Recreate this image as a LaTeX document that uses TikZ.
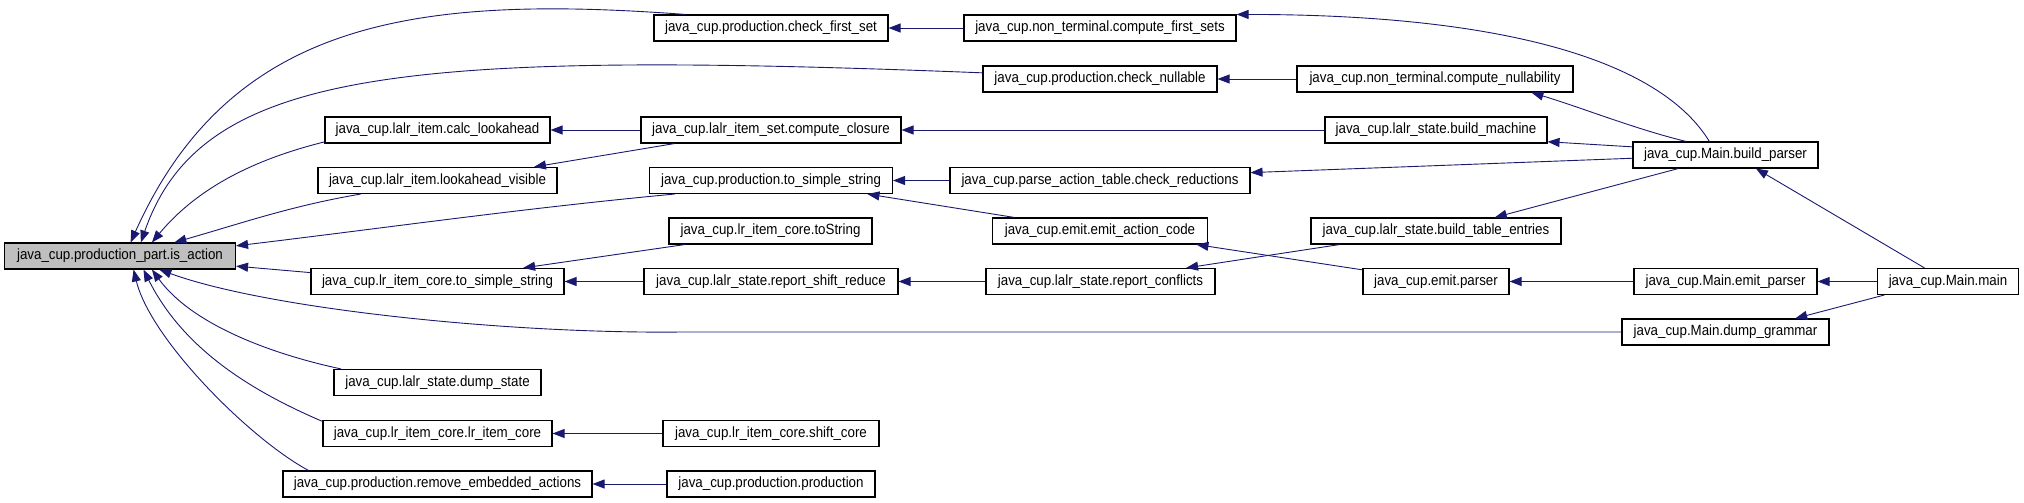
\documentclass[tikz,border=0pt]{standalone}
\usepackage{fontspec}
\usepackage{tikz}
\usetikzlibrary{arrows.meta}
\newfontfamily\dxfont[FakeStretch=0.9]{Liberation Sans}
\definecolor{edge_blue}{RGB}{25,25,112}
\definecolor{root_gray}{RGB}{191,191,191}
\tikzset{
  fn_box/.style={rectangle, draw=black, line width=1.1pt, minimum height=26pt, inner sep=2pt, font=\dxfont\fontsize{14.8}{16}\selectfont},
  fn_root/.style={fn_box, fill=root_gray},
  call/.style={draw=edge_blue, line width=0.9pt, -{Triangle[length=12pt,width=9pt]}}
}

\begin{document}
\begin{tikzpicture}[x=1pt, y=-1pt]

  \useasboundingbox (0,0) rectangle (2024,503);

  % Root function
  \node[fn_root, minimum width=231pt] (ipa) at (120,256) {java\_cup.production\_part.is\_action};

  % Second column
  \node[fn_box, minimum width=225pt] (clh) at (437.5,130) {java\_cup.lalr\_item.calc\_lookahead};
  \node[fn_box, minimum width=239pt] (lav) at (437.5,180.5) {java\_cup.lalr\_item.lookahead\_visible};
  \node[fn_box, minimum width=253pt] (lss) at (437.5,281.5) {java\_cup.lr\_item\_core.to\_simple\_string};
  \node[fn_box, minimum width=207pt] (dst) at (437.5,382.5) {java\_cup.lalr\_state.dump\_state};
  \node[fn_box, minimum width=229pt] (lic) at (437.5,433.5) {java\_cup.lr\_item\_core.lr\_item\_core};
  \node[fn_box, minimum width=309pt] (rea) at (437.5,484) {java\_cup.production.remove\_embedded\_actions};

  % Third column
  \node[fn_box, minimum width=234pt] (cfs) at (771,28) {java\_cup.production.check\_first\_set};
  \node[fn_box, minimum width=260pt] (ccl) at (771,130) {java\_cup.lalr\_item\_set.compute\_closure};
  \node[fn_box, minimum width=243pt] (pts) at (771,180.5) {java\_cup.production.to\_simple\_string};
  \node[fn_box, minimum width=203pt] (lts) at (770.5,231) {java\_cup.lr\_item\_core.toString};
  \node[fn_box, minimum width=254pt] (rsr) at (771,281.5) {java\_cup.lalr\_state.report\_shift\_reduce};
  \node[fn_box, minimum width=216pt] (shc) at (771,433.5) {java\_cup.lr\_item\_core.shift\_core};
  \node[fn_box, minimum width=208pt] (ppr) at (771,484) {java\_cup.production.production};

  % Fourth column
  \node[fn_box, minimum width=272pt] (nfs) at (1100,28) {java\_cup.non\_terminal.compute\_first\_sets};
  \node[fn_box, minimum width=234pt] (cnl) at (1100,79) {java\_cup.production.check\_nullable};
  \node[fn_box, minimum width=300pt] (crd) at (1100,180.5) {java\_cup.parse\_action\_table.check\_reductions};
  \node[fn_box, minimum width=215pt] (eac) at (1100,231) {java\_cup.emit.emit\_action\_code};
  \node[fn_box, minimum width=229pt] (rcf) at (1100.5,281.5) {java\_cup.lalr\_state.report\_conflicts};

  % Fifth column
  \node[fn_box, minimum width=276pt] (nnl) at (1435,79) {java\_cup.non\_terminal.compute\_nullability};
  \node[fn_box, minimum width=222pt] (bmc) at (1436,130) {java\_cup.lalr\_state.build\_machine};
  \node[fn_box, minimum width=250pt] (bte) at (1436,231) {java\_cup.lalr\_state.build\_table\_entries};
  \node[fn_box, minimum width=146pt] (epr) at (1436,281.5) {java\_cup.emit.parser};

  % Main entry points
  \node[fn_box, minimum width=185pt] (bps) at (1725.5,155) {java\_cup.Main.build\_parser};
  \node[fn_box, minimum width=183pt] (mep) at (1725.5,281.5) {java\_cup.Main.emit\_parser};
  \node[fn_box, minimum width=207pt] (mdg) at (1725.5,332) {java\_cup.Main.dump\_grammar};
  \node[fn_box, minimum width=141pt] (mmn) at (1948,281.5) {java\_cup.Main.main};

  % Calls into the root
  \draw[call] (cfs.171) .. controls +(-269,-20) and +(100,-223) .. (ipa.52);
  \draw[call] (cnl.177) .. controls +(-583,-23) and +(60,-173) .. (ipa.33);
  \draw[call] (clh.186) .. controls +(-60,15) and +(50,-60) .. (ipa.23);
  \draw[call] (lav.190) .. controls +(-70,12) and +(70,-20) .. (ipa.14);
  \draw[call] (pts.188) .. controls +(-150,14) and +(150,-18) .. (ipa.5);
  \draw[call] (lss.176) -- (ipa.355);
  \draw[call] (mdg.west) -- ++(-940,0) .. controls +(-170,2) and +(110,40) .. (ipa.341);
  \draw[call] (dst.172) .. controls +(-70,-15) and +(40,55) .. (ipa.337);
  \draw[call] (lic.174) .. controls +(-70,-30) and +(40,80) .. (ipa.330);
  \draw[call] (rea.174) .. controls +(-58,-31) and +(17,70) .. (ipa.315);

  % Other calls
  \draw[call] (nfs.west) -- (cfs.east);
  \draw[call] (bps.140) .. controls +(-50,-82) and +(264,0) .. (nfs.north east);
  \draw[call] (nnl.west) -- (cnl.east);
  \draw[call] (bps.161) .. controls +(-50,-12) and +(50,15) .. (nnl.352);
  \draw[call] (ccl.west) -- (clh.east);
  \draw[call] (ccl.188) -- (lav.8);
  \draw[call] (bmc.west) -- (ccl.east);
  \draw[call] (bps.175) -- (bmc.354);
  \draw[call] (bps.182) -- (crd.3);
  \draw[call] (crd.west) -- (pts.east);
  \draw[call] (eac.171) -- (pts.352);
  \draw[call] (bps.196) -- (bte.13);
  \draw[call] (epr.171) -- (eac.352);
  \draw[call] (bte.188) -- (rcf.9);
  \draw[call] (rcf.west) -- (rsr.east);
  \draw[call] (rsr.west) -- (lss.east);
  \draw[call] (lts.189) -- (lss.9);
  \draw[call] (mep.west) -- (epr.east);
  \draw[call] (mmn.west) -- (mep.east);
  \draw[call] (mmn.150) -- (bps.336);
  \draw[call] (mmn.192) -- (mdg.11);
  \draw[call] (shc.west) -- (lic.east);
  \draw[call] (ppr.west) -- (rea.east);

\end{tikzpicture}
\end{document}
